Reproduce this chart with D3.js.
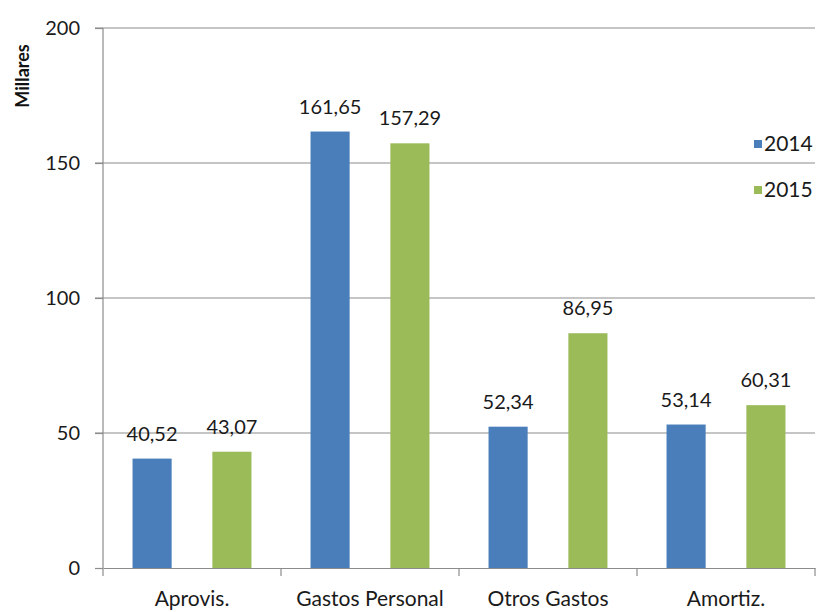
<!DOCTYPE html>
<html>
<head>
<meta charset="utf-8">
<script src="https://cdn.jsdelivr.net/npm/d3@7"></script>
<style>
  body { margin: 0; background: #fff; }
  svg { display: block; font-family: Lato, "Open Sans", sans-serif; }
</style>
</head>
<body>
<div id="chart"></div>
<script>
const categories = ["Aprovis.", "Gastos Personal", "Otros Gastos", "Amortiz."];
const years = ["2014", "2015"];
const values2014 = [40.52, 161.65, 52.34, 53.14];
const values2015 = [43.07, 157.29, 86.95, 60.31];
const yTicks = [0, 50, 100, 150, 200];
const colors = ["#4a7ebb", "#9bbb59"];

const width = 820, height = 612;
const margin = {top: 28, right: 5, bottom: 44, left: 103};

const svg = d3.select("#chart").append("svg")
  .attr("width", width)
  .attr("height", height);

const y = d3.scaleLinear().domain([0, 200]).range([height - margin.bottom, margin.top]);
const x = d3.scaleBand().domain(categories).range([margin.left, width - margin.right]);
const inner = d3.scaleBand().domain(years).range([0, x.bandwidth()]).paddingInner(0.51).paddingOuter(0.37);

// gridlines
svg.append("g")
  .selectAll("line")
  .data(yTicks.filter(d => d > 0))
  .enter().append("line")
  .attr("x1", margin.left - 8)
  .attr("x2", width - margin.right)
  .attr("y1", d => y(d))
  .attr("y2", d => y(d))
  .attr("stroke", "#8c8c8c")
  .attr("stroke-width", 1.2);

// y axis
const yAxis = d3.axisLeft(y).tickValues(yTicks).tickSize(8).tickPadding(15).tickFormat(d3.format("d"));
const gy = svg.append("g")
  .attr("transform", `translate(${margin.left},0)`)
  .call(yAxis);
gy.select(".domain").attr("stroke", "#8c8c8c").attr("stroke-width", 1.2).attr("d", `M0,${y(200)}V${y(0)}`);
gy.selectAll(".tick line").attr("stroke", "#8c8c8c").attr("stroke-width", 1.2);
gy.selectAll(".tick text").attr("font-size", 20).attr("fill", "#1a1a1a").attr("font-family", "Lato, sans-serif");

// x axis
const xAxis = d3.axisBottom(x).tickSize(0).tickPadding(23);
const gx = svg.append("g")
  .attr("transform", `translate(0,${y(0)})`)
  .call(xAxis);
gx.select(".domain").attr("stroke", "#8c8c8c").attr("stroke-width", 1.2);
gx.selectAll(".tick text").attr("font-size", 21).attr("fill", "#1a1a1a").attr("font-family", "Lato, sans-serif");
// category separator ticks
gx.append("g").selectAll("line")
  .data(categories.map(c => x(c)).concat([x(categories[categories.length - 1]) + x.bandwidth()]))
  .enter().append("line")
  .attr("x1", d => d).attr("x2", d => d)
  .attr("y1", 0).attr("y2", 8)
  .attr("stroke", "#8c8c8c").attr("stroke-width", 1.2);

// bars
const series = [values2014, values2015];
series.forEach((vals, si) => {
  const g = svg.append("g");
  g.selectAll("rect")
    .data(vals)
    .enter().append("rect")
    .attr("x", (d, i) => x(categories[i]) + inner(years[si]))
    .attr("y", d => y(d))
    .attr("width", inner.bandwidth())
    .attr("height", d => y(0) - y(d))
    .attr("fill", colors[si]);
  g.selectAll("text")
    .data(vals)
    .enter().append("text")
    .attr("x", (d, i) => x(categories[i]) + inner(years[si]) + inner.bandwidth() / 2)
    .attr("y", d => y(d) - 18)
    .attr("text-anchor", "middle")
    .attr("font-size", 20)
    .attr("fill", "#1a1a1a")
    .text(d => d.toFixed(2).replace(".", ","));
});

// y axis title
svg.append("text")
  .attr("transform", `translate(29,76) rotate(-90)`)
  .attr("text-anchor", "middle")
  .attr("font-size", 18)
  .attr("font-weight", "bold")
  .attr("fill", "#111")
  .text("Millares");

// legend
const legend = svg.append("g").attr("transform", "translate(754,144)");
years.forEach((yr, i) => {
  const row = legend.append("g").attr("transform", `translate(0,${i * 46})`);
  row.append("rect")
    .attr("x", 0).attr("y", -4)
    .attr("width", 8).attr("height", 8)
    .attr("fill", colors[i]);
  row.append("text")
    .attr("x", 10).attr("y", 0)
    .attr("dy", "0.35em")
    .attr("font-size", 21)
    .attr("fill", "#1a1a1a")
    .text(yr);
});
</script>
</body>
</html>
